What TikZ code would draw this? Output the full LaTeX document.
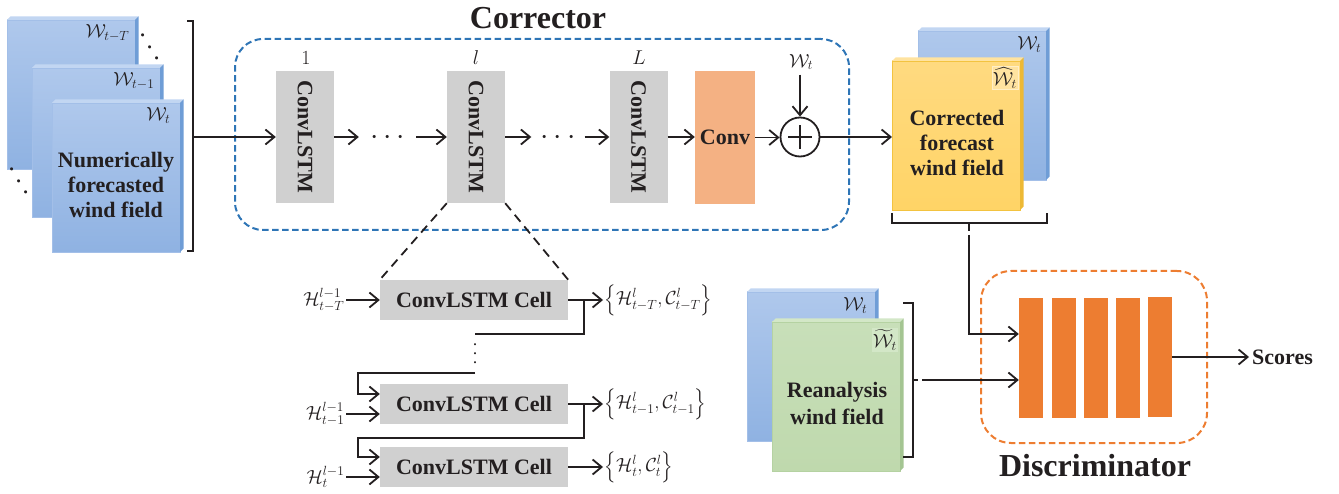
\RequirePackage{fix-cm}
\documentclass[tikz,border=0pt]{standalone}
\usepackage{exscale}
\usepackage{fontspec}
\setmainfont{Liberation Serif}
\usetikzlibrary{arrows.meta,calc}

\definecolor{ink}{HTML}{231F20}
\definecolor{boxgray}{HTML}{D0D0D0}
\definecolor{convfill}{HTML}{F4B183}
\definecolor{discorange}{HTML}{ED7D31}
\definecolor{dashblue}{HTML}{2E75B6}
% blue sheet
\definecolor{bsTop}{HTML}{AFC8EC}
\definecolor{bsBot}{HTML}{8FB2E2}
\definecolor{bsEdge}{HTML}{A3BFE8}
\definecolor{bsLid}{HTML}{C2D6F2}
\definecolor{bsSide}{HTML}{6F9DD6}
% orange sheet
\definecolor{osTop}{HTML}{FFDA80}
\definecolor{osBot}{HTML}{FFD466}
\definecolor{osEdge}{HTML}{F3C340}
\definecolor{osLid}{HTML}{FFE3A0}
\definecolor{osSide}{HTML}{EDB935}
% green sheet
\definecolor{gsTop}{HTML}{C8DFB9}
\definecolor{gsBot}{HTML}{BFD9AD}
\definecolor{gsEdge}{HTML}{B5D2A2}
\definecolor{gsLid}{HTML}{D3E7C7}
\definecolor{gsSide}{HTML}{A4C592}

% top strip and right side of a sheet node, giving it some depth
\newcommand\sheetedges[3]{%
  \fill[#2] (#1.north west) -- ++(3.5,-3.5) -- ($(#1.north east)+(3.5,-3.5)$) -- (#1.north east) -- cycle;
  \fill[#3] (#1.north east) -- ++(3.5,-3.5) -- ($(#1.south east)+(3.5,-3.5)$) -- (#1.south east) -- cycle;
}

\begin{document}
\begin{tikzpicture}[x=1pt,y=-1pt,
  sheet/.style={rectangle, minimum width=128pt, minimum height=149pt, inner sep=0pt, outer sep=0pt, anchor=north west, line width=0.6pt},
  bluesheet/.style={sheet, top color=bsTop, bottom color=bsBot, draw=bsEdge},
  orangesheet/.style={sheet, top color=osTop, bottom color=osBot, draw=osEdge},
  greensheet/.style={sheet, top color=gsTop, bottom color=gsBot, draw=gsEdge},
  lbl/.style={font=\fontsize{22}{25}\selectfont\bfseries, text=ink, align=center, inner sep=0pt},
  title/.style={font=\fontsize{32}{36}\selectfont\bfseries, text=ink, inner sep=0pt},
  wlbl/.style={font=\fontsize{19}{21}\selectfont, text=ink, inner sep=1.5pt},
  hlbl/.style={font=\fontsize{19}{21}\selectfont, text=ink, inner sep=1.5pt},
  numlbl/.style={font=\fontsize{20}{22}\selectfont, text=ink, inner sep=1pt},
  lstm/.style={fill=boxgray, minimum width=58pt, minimum height=132pt, inner sep=0pt, font=\fontsize{22}{25}\selectfont\bfseries, text=ink},
  convbox/.style={fill=convfill, minimum width=60pt, minimum height=133pt, inner sep=0pt, font=\fontsize{22}{25}\selectfont\bfseries, text=ink},
  cell/.style={fill=boxgray, minimum width=188pt, minimum height=40pt, inner sep=0pt, font=\fontsize{22}{25}\selectfont\bfseries, text=ink},
  bar/.style={fill=discorange, minimum width=24pt, minimum height=120pt, inner sep=0pt},
  dotsn/.style={font=\fontsize{30}{30}\selectfont, text=ink, inner sep=0pt, text height=15pt, text depth=0pt},
  smalldots/.style={font=\fontsize{20}{20}\selectfont, text=ink, inner sep=0pt, text height=10pt, text depth=0pt},
  conn/.style={line width=1.8pt, draw=ink},
  arr/.style={conn, -{Straight Barb[length=9pt,width=15pt]}},
  blackdash/.style={conn, dash pattern=on 9pt off 6pt},
  groupbox/.style={rectangle, rounded corners=28pt, line width=2pt, dash pattern=on 6.5pt off 3.5pt, inner sep=0pt}
]
\useasboundingbox (0,0) rectangle (1339,494);

% ---------- numerically forecasted wind fields ----------
\node[bluesheet] (nb1) at (7,20) {};
\sheetedges{nb1}{bsLid}{bsSide}
\node[wlbl, anchor=north east] (w1) at ($(nb1.north east)+(-4,3)$) {$\mathcal{W}_{t-T}$};
\node[dotsn, rotate=-60] (dd1) at (150,47) {$\cdots$};
\node[bluesheet] (nb2) at (32,68) {};
\sheetedges{nb2}{bsLid}{bsSide}
\node[wlbl, anchor=north east] (w2) at ($(nb2.north east)+(-4,3)$) {$\mathcal{W}_{t-1}$};
\node[dotsn, rotate=-60] (dd2) at (19,181) {$\cdots$};
\node[bluesheet] (nb3) at (52,103) {};
\sheetedges{nb3}{bsLid}{bsSide}
\node[wlbl, anchor=north east] (w3) at ($(nb3.north east)+(-8,3)$) {$\mathcal{W}_{t}$};
\node[lbl] (numtext) at (116,185) {Numerically\\forecasted\\wind field};

\draw[conn] (187,21) -- (193,21) -- (193,251) -- (187,251);
\draw[conn] (193,137) -- (200,137) coordinate (nbr);

% ---------- corrector ----------
\node[groupbox, draw=dashblue, minimum width=614pt, minimum height=191pt] (corr) at (542,134.5) {};
\node[title] (corrtitle) at (538,18) {Corrector};

\node[lstm] (cl1) at (305,137) {\rotatebox{-90}{ConvLSTM}};
\node[lstm] (cll) at (476,137) {\rotatebox{-90}{ConvLSTM}};
\node[lstm] (clL) at (638.5,137) {\rotatebox{-90}{ConvLSTM}};
\node[numlbl] (n1) at (306,58) {$1$};
\node[numlbl] (nl) at (476,58) {$l$};
\node[numlbl] (nL) at (639,58) {$L$};
\node[dotsn, inner xsep=11pt] (d1) at (387.5,137) {$\cdots$};
\node[dotsn, inner xsep=9pt] (d2) at (558,137) {$\cdots$};
\node[convbox] (conv) at (725,137.5) {Conv};
\node[circle, draw=ink, line width=1.8pt, minimum size=39pt, inner sep=0pt] (plus) at (800,137) {};
\draw[conn] ([xshift=-12pt]plus.center) -- ([xshift=12pt]plus.center);
\draw[conn] ([yshift=-12pt]plus.center) -- ([yshift=12pt]plus.center);
\node[wlbl] (wplus) at (801,62) {$\mathcal{W}_{t}$};

\draw[arr] (nbr) -- (cl1);
\draw[arr] (cl1) -- (d1);
\draw[arr] (d1) -- (cll);
\draw[arr] (cll) -- (d2);
\draw[arr] (d2) -- (clL);
\draw[arr] (clL) -- (clL -| conv.west);
\draw[arr] (conv) -- (conv -| plus.west);
\draw[arr] ([yshift=-3pt]wplus.south -| plus.north) -- (plus.north);

% ---------- corrected forecast ----------
\node[bluesheet] (cb) at (918,31) {};
\sheetedges{cb}{bsLid}{bsSide}
\node[wlbl, anchor=north east] (w4) at ($(cb.north east)+(-3,4)$) {$\mathcal{W}_{t}$};
\node[orangesheet] (co) at (892,61) {};
\sheetedges{co}{osLid}{osSide}
\node[wlbl, anchor=north east, fill=osLid, draw=osLid!60, line width=0.5pt, inner sep=1pt] (what) at ($(co.north east)+(-2,5)$) {$\widehat{\mathcal{W}}_{t}$};
\node[lbl] (cotext) at (957,143) {Corrected\\forecast\\wind field};
\draw[arr] (plus) -- (plus -| co.west);

\draw[conn] (892,213) -- (892,223) -- (1047,223) -- (1047,213);
\draw[conn] (969,223) -- (969,231);
\coordinate (cbt) at (969,235);

% ---------- reanalysis ----------
\node[bluesheet] (rb) at (747,292) {};
\sheetedges{rb}{bsLid}{bsSide}
\node[wlbl, anchor=north east] (w5) at ($(rb.north east)+(-6,4)$) {$\mathcal{W}_{t}$};
\node[greensheet] (rg) at (772,322) {};
\sheetedges{rg}{gsLid}{gsSide}
\node[wlbl, anchor=north east, fill=gsLid, inner sep=1pt] (wtil) at ($(rg.north east)+(-2,6)$) {$\widetilde{\mathcal{W}}_{t}$};
\node[lbl, font=\fontsize{22}{27}\selectfont\bfseries] (rgtext) at (837,403) {Reanalysis\\wind field};

\draw[conn] (903,303) -- (913,303) -- (913,457) -- (903,457);
\draw[conn] (913,380) -- (918,380);
\coordinate (rbt) at (922,380);

% ---------- discriminator ----------
\node[groupbox, rounded corners=30pt, draw=discorange, minimum width=226pt, minimum height=172pt] (disc) at (1094,357) {};
\node[title] (disctitle) at (1095,466) {Discriminator};
\node[bar] (b1) at (1031,358) {};
\node[bar] (b2) at (1064,358) {};
\node[bar] (b3) at (1096,358) {};
\node[bar] (b4) at (1128,358) {};
\node[bar] (b5) at (1160,357) {};
\node[lbl, anchor=west, inner sep=3pt] (scores) at (1249,357) {Scores};

\draw[arr] (cbt) |- ([yshift=24pt]b1.west);
\draw[arr] (rbt) -- (rbt -| b1.west);
\draw[arr] (b5) -- (scores);

% ---------- unrolled ConvLSTM layer ----------
\node[cell] (c1) at (474,300) {ConvLSTM Cell};
\node[cell] (c2) at (474,404) {ConvLSTM Cell};
\node[cell] (c3) at (474,467) {ConvLSTM Cell};

\draw[blackdash] (cll.south west) -- (c1.north west);
\draw[blackdash] (cll.south east) -- (c1.north east);

\node[hlbl, anchor=east] (h1) at (346,300) {$\mathcal{H}^{l-1}_{t-T}$};
\node[hlbl, anchor=east] (h2) at (346,414) {$\mathcal{H}^{l-1}_{t-1}$};
\node[hlbl, anchor=east] (h3) at (346,477) {$\mathcal{H}^{l-1}_{t}$};
\node[hlbl, anchor=west] (o1) at (603,300) {$\Bigl\{\mathcal{H}^{l}_{t-T},\mathcal{C}^{l}_{t-T}\Bigr\}$};
\node[hlbl, anchor=west] (o2) at (603,404) {$\Bigl\{\mathcal{H}^{l}_{t-1},\mathcal{C}^{l}_{t-1}\Bigr\}$};
\node[hlbl, anchor=west] (o3) at (603,467) {$\Bigl\{\mathcal{H}^{l}_{t},\mathcal{C}^{l}_{t}\Bigr\}$};

\draw[arr] (h1) -- (c1);
\draw[arr] (h2) -- (h2 -| c2.west);
\draw[arr] (h3) -- (h3 -| c3.west);
\draw[arr] (c1) -- (o1);
\draw[arr] (c2) -- (o2);
\draw[arr] (c3) -- (o3);

\node[smalldots, rotate=90] (vd) at (475,354) {$\cdots$};
\coordinate (f1) at (584,300);
\coordinate (vt) at (475,334);
\coordinate (vb) at (475,373);
\draw[conn] (f1) |- (vt);
\draw[arr] (vb) -| ([xshift=-22pt,yshift=10pt]c2.west) -- ([yshift=10pt]c2.west);
\coordinate (f2) at (584,404);
\draw[arr] (f2) -- ++(0,34) -| ([xshift=-22pt,yshift=10pt]c3.west) -- ([yshift=10pt]c3.west);
\end{tikzpicture}
\end{document}
